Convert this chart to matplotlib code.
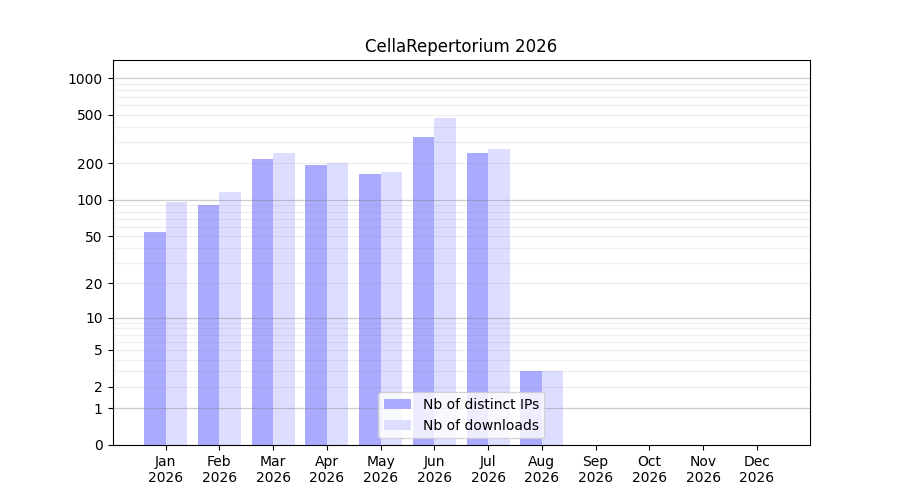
import numpy as np
import matplotlib
matplotlib.use("Agg")
import matplotlib.pyplot as plt
from matplotlib.ticker import FixedLocator, FixedFormatter

months = ["Jan\n2026", "Feb\n2026", "Mar\n2026", "Apr\n2026", "May\n2026", "Jun\n2026",
          "Jul\n2026", "Aug\n2026", "Sep\n2026", "Oct\n2026", "Nov\n2026", "Dec\n2026"]
distinct_ips = [54, 90, 219, 192, 162, 326, 241, 3, 0, 0, 0, 0]
downloads = [96, 117, 241, 203, 171, 467, 260, 3, 0, 0, 0, 0]
ytick_vals = [0, 1, 2, 5, 10, 20, 50, 100, 200, 500, 1000]
ytick_labels = ["0", "1", "2", "5", "10", "20", "50", "100", "200", "500", "1000"]
major_grid = [1, 10, 100, 1000]
minor_grid = [m * 10 ** e for e in range(3) for m in range(2, 10)]

fig, ax = plt.subplots(figsize=(9, 5), dpi=100)
ax.set_yscale("function", functions=(lambda v: np.log10(1 + np.maximum(v, 0)),
                                      lambda t: 10 ** t - 1))
x = np.arange(len(months))
w = 0.4
ax.bar(x - w / 2, distinct_ips, width=w, color="#aaaaff", label="Nb of distinct IPs")
ax.bar(x + w / 2, downloads, width=w, color="#ddddff", label="Nb of downloads")

ax.set_ylim(0, 1405)
ax.yaxis.set_major_locator(FixedLocator(ytick_vals))
ax.yaxis.set_major_formatter(FixedFormatter(ytick_labels))
ax.yaxis.set_minor_locator(FixedLocator([]))
for v in major_grid:
    ax.axhline(v, color="gray", alpha=0.4, linewidth=0.9, zorder=3)
for v in minor_grid:
    ax.axhline(v, color="gray", alpha=0.12, linewidth=0.9, zorder=3)

ax.set_xticks(x)
ax.set_xticklabels(months)
ax.set_title("CellaRepertorium 2026")
ax.legend(loc="lower center")
fig.savefig("out.png")
